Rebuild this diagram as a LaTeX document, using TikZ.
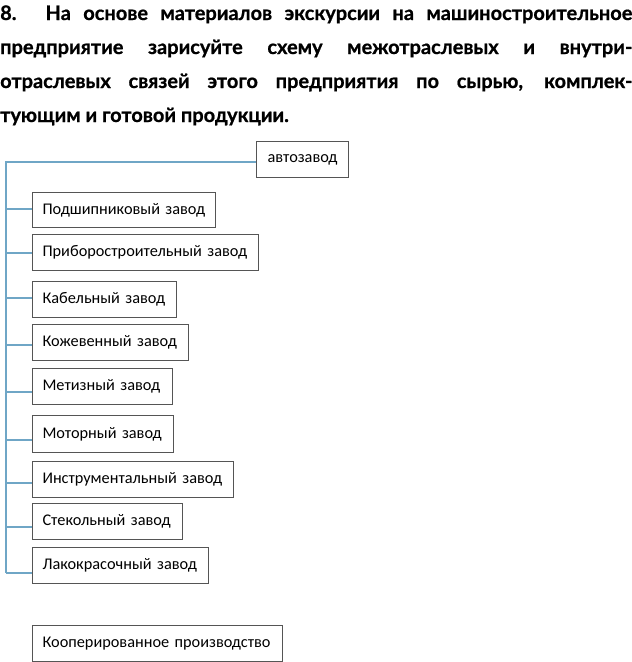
\documentclass[tikz,border=0pt]{standalone}
\usepackage{fontspec}
\setmainfont{Carlito}
\newfontfamily\headfont{Lato Bold}[FakeBold=0.8]
\definecolor{linkblue}{HTML}{6FA6C6}
\definecolor{boxgray}{HTML}{555555}
\tikzset{
  plant/.style={draw=boxgray, line width=1.1pt, anchor=north west, inner xsep=10pt, inner ysep=0pt,
    font=\fontsize{16.3}{19}\selectfont, align=left},
  link/.style={draw=linkblue, line width=1.2pt},
  headline/.style={anchor=base west, inner sep=0pt, font=\headfont\fontsize{20}{23}\selectfont}
}
\begin{document}
\begin{tikzpicture}[x=1pt,y=-1pt]
\useasboundingbox (0,0) rectangle (632,662);
% heading
\node[headline] (h1) at (0,20) {\makebox[632pt][s]{8. На основе материалов экскурсии на машиностроительное}};
\node[headline] (h2) at (0,54) {\makebox[632pt][s]{предприятие зарисуйте схему межотраслевых и внутри-}};
\node[headline] (h3) at (0,88) {\makebox[632pt][s]{отраслевых связей этого предприятия по сырью, комплек-}};
\node[headline] (h4) at (0,122) {тующим и готовой продукции.};
% boxes
\node[plant, minimum width=92pt, minimum height=36pt, align=center, text width=72pt] (auto) at (256,141) {автозавод};
\node[plant, minimum width=183pt, minimum height=35pt, text width=163pt] (b1) at (32,192) {Подшипниковый завод};
\node[plant, minimum width=226pt, minimum height=36pt, text width=206pt] (b2) at (32,234) {Приборостроительный завод};
\node[plant, minimum width=144pt, minimum height=36pt, text width=124pt] (b3) at (32,281) {Кабельный завод};
\node[plant, minimum width=156pt, minimum height=36pt, text width=136pt] (b4) at (32,324) {Кожевенный завод};
\node[plant, minimum width=140pt, minimum height=36pt, text width=120pt] (b5) at (32,368) {Метизный завод};
\node[plant, minimum width=141pt, minimum height=37pt, text width=121pt] (b6) at (32,415) {Моторный завод};
\node[plant, minimum width=201pt, minimum height=36pt, text width=181pt] (b7) at (32,461) {Инструментальный завод};
\node[plant, minimum width=150pt, minimum height=36pt, text width=130pt] (b8) at (32,503) {Стекольный завод};
\node[plant, minimum width=176pt, minimum height=36pt, text width=156pt] (b9) at (32,547) {Лакокрасочный завод};
\node[plant, minimum width=250pt, minimum height=36pt, text width=230pt] (b10) at (32,625) {Кооперированное производство};
% connectors
\coordinate (top) at (6,162);
\coordinate (j1) at (6,209);
\coordinate (j2) at (6,253);
\coordinate (j3) at (6,298);
\coordinate (j4) at (6,345);
\coordinate (j5) at (6,392);
\coordinate (j6) at (6,440);
\coordinate (j7) at (6,483);
\coordinate (j8) at (6,527);
\coordinate (j9) at (6,573);
\draw[link] (auto.west |- top) -- (top) -- (j9);
\foreach \i in {1,...,9} {
  \draw[link] (j\i) -- (j\i -| b\i.west);
}
\end{tikzpicture}
\end{document}
